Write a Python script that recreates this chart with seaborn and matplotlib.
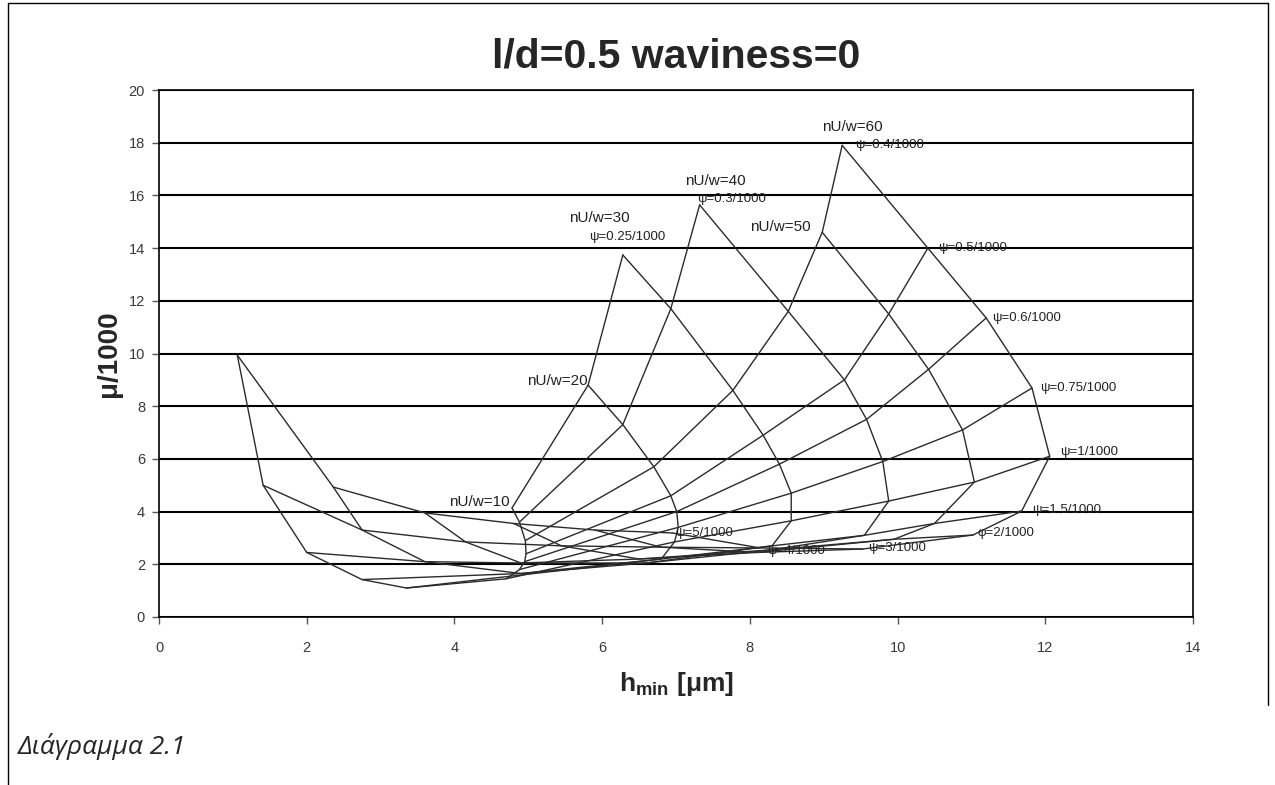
import numpy as np
import pandas as pd
import seaborn as sns
import matplotlib.pyplot as plt
from matplotlib.lines import Line2D

# ψ (x1000) values along each nU/w curve
psi_values = [0.25, 0.3, 0.4, 0.5, 0.6, 0.75, 1, 1.5, 2, 3, 4, 5]
nuw_values = [10, 20, 30, 40, 50, 60]
nan = np.nan

# h_min [μm] and μ/1000, one list per nU/w curve
h_10 = [4.78, 4.88, 4.96, 4.97, 4.95, 4.88, 4.70, 3.35, 2.75, 2.00, 1.41, 1.06]
mu_10 = [4.14, 3.60, 2.90, 2.40, 2.10, 1.80, 1.45, 1.10, 1.42, 2.45, 5.00, 9.94]

h_20 = [5.81, 6.28, 6.70, 6.93, 7.01, 7.03, 6.98, 6.80, 4.90, 3.60, 2.75, 2.36]
mu_20 = [8.80, 7.30, 5.70, 4.60, 4.00, 3.40, 2.85, 2.20, 1.65, 2.10, 3.30, 4.93]

h_30 = [6.28, 6.93, 7.77, 8.18, 8.40, 8.56, 8.56, 8.30, 6.60, 4.90, 4.15, 3.60]
mu_30 = [13.74, 11.70, 8.60, 6.90, 5.80, 4.70, 3.65, 2.70, 2.05, 2.05, 2.85, 3.95]

h_40 = [nan, 7.32, 8.52, 9.28, 9.58, 9.80, 9.88, 9.55, 8.30, 6.50, 5.45, 4.80]
mu_40 = [nan, 15.64, 11.60, 9.00, 7.50, 5.90, 4.40, 3.10, 2.55, 2.20, 2.70, 3.55]

h_50 = [nan, nan, 8.98, 9.88, 10.42, 10.88, 11.04, 10.50, 9.95, 8.10, 6.80, 5.90]
mu_50 = [nan, nan, 14.60, 11.50, 9.40, 7.10, 5.12, 3.55, 2.95, 2.45, 2.65, 3.30]

h_60 = [nan, nan, 9.25, 10.41, 11.20, 11.82, 12.06, 11.68, 11.02, 9.53, 8.14, 6.95]
mu_60 = [nan, nan, 17.90, 14.00, 11.35, 8.69, 6.10, 4.02, 3.11, 2.58, 2.62, 3.19]

h_table = [h_10, h_20, h_30, h_40, h_50, h_60]
mu_table = [mu_10, mu_20, mu_30, mu_40, mu_50, mu_60]

psi_labels = {0.25: 'ψ=0.25/1000', 0.3: 'ψ=0.3/1000', 0.4: 'ψ=0.4/1000',
              0.5: 'ψ=0.5/1000', 0.6: 'ψ=0.6/1000', 0.75: 'ψ=0.75/1000',
              1: 'ψ=1/1000', 1.5: 'ψ=1.5/1000', 2: 'φ=2/1000',
              3: 'ψ=3/1000', 4: 'ψ=4/1000', 5: 'ψ=5/1000'}

rows = []
for nuw, hs, mus in zip(nuw_values, h_table, mu_table):
    for psi, h, mu in zip(psi_values, hs, mus):
        if not np.isnan(h):
            rows.append({'nuw': nuw, 'psi': psi, 'h': h, 'mu': mu})
df = pd.DataFrame(rows)

sns.set_style('white')
plt.rcParams['font.family'] = ['Liberation Sans', 'DejaVu Sans']
plt.rcParams['mathtext.fontset'] = 'custom'
plt.rcParams['mathtext.rm'] = 'Liberation Sans'
plt.rcParams['mathtext.bf'] = 'Liberation Sans:bold'

W, H = 1275, 785
fig = plt.figure(figsize=(W / 100, H / 100), dpi=100)
ax = fig.add_axes([159 / W, 1 - 617 / H, (1193 - 159) / W, (617 - 90) / H])

line_color = '#2b2b2b'
# curves of constant nU/w
sns.lineplot(data=df.sort_values(['nuw', 'psi']), x='h', y='mu', units='nuw',
             estimator=None, sort=False, color=line_color, lw=1.0, ax=ax, legend=False)
# curves of constant ψ
sns.lineplot(data=df.sort_values(['psi', 'nuw']), x='h', y='mu', units='psi',
             estimator=None, sort=False, color=line_color, lw=1.0, ax=ax, legend=False)

ax.set_xlim(0, 14)
ax.set_ylim(0, 20)
ax.set_xticks(range(0, 15, 2))
ax.set_yticks(range(0, 21, 2))
ax.yaxis.grid(True, color='black', lw=1.5)
ax.xaxis.grid(False)
ax.set_axisbelow(True)
for s in ax.spines.values():
    s.set_color('black')
    s.set_linewidth(1.2)
ax.tick_params(axis='both', direction='out', length=5, width=1, color='#555555',
               labelsize=10.5, labelcolor='#3a3a3a', left=True, bottom=True)
ax.tick_params(axis='x', pad=12)
ax.tick_params(axis='y', pad=5)

ax.set_xlabel(r'h$_{\mathbf{min}}$ [μm]', fontsize=19, fontweight='bold', labelpad=11)
ax.set_ylabel('μ/1000', fontsize=20, fontweight='bold', labelpad=5)
ax.set_title('l/d=0.5 waviness=0', fontsize=29.5, fontweight='bold', pad=16)

# nU/w labels at the top node of each curve (offsets in pixels)
nuw_offsets = {10: (-2, 6, 'right'), 20: (0, 4, 'right'), 30: (-23, 37, 'center'),
               40: (16, 24, 'center'), 50: (-12, 5, 'right'), 60: (10, 18, 'center')}
for nuw in nuw_values:
    top = df[df.nuw == nuw].iloc[0]
    dx, dy, ha = nuw_offsets[nuw]
    ax.annotate(f'nU/w={nuw}', (top.h, top.mu), xytext=(dx, dy), textcoords='offset pixels',
                ha=ha, va='center', fontsize=11, color='#222222')

# ψ labels at the last node of each ψ curve
psi_offsets = {0.25: (4, 18, 'center'), 0.3: (32, 6, 'center'), 0.4: (13, 0, 'left'),
               0.5: (10, 0, 'left'), 0.6: (6, 0, 'left'), 0.75: (8, 0, 'left'),
               1: (10, 4, 'left'), 1.5: (10, 1, 'left'), 2: (5, 2, 'left'),
               3: (5, 1, 'left'), 4: (7, -3, 'left'), 5: (3, 0, 'left')}
for psi in psi_values:
    end = df[df.psi == psi].iloc[-1]
    dx, dy, ha = psi_offsets[psi]
    ax.annotate(psi_labels[psi], (end.h, end.mu), xytext=(dx, dy), textcoords='offset pixels',
                ha=ha, va='center', fontsize=9.5, color='#222222')

# outer frame of the figure
fig.add_artist(Line2D([8 / W, 1268 / W], [1 - 3 / H, 1 - 3 / H], transform=fig.transFigure, color='black', lw=1))
fig.add_artist(Line2D([8 / W, 8 / W], [1 - 3 / H, 0], transform=fig.transFigure, color='black', lw=1))
fig.add_artist(Line2D([1268 / W, 1268 / W], [1 - 3 / H, 1 - 705 / H], transform=fig.transFigure, color='black', lw=1))

fig.text(18 / W, 1 - 746 / H, 'Διάγραμμα 2.1', fontsize=19, style='italic',
         family=['Open Sans', 'Noto Sans', 'DejaVu Sans'], va='center', ha='left')

fig.savefig('out.png', dpi=100, facecolor='white')
